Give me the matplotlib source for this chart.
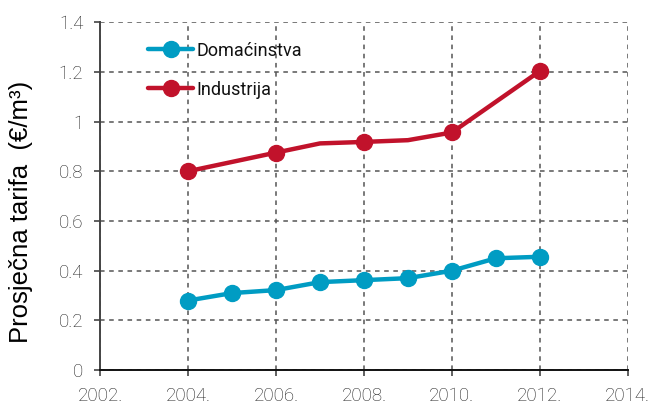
import matplotlib
matplotlib.use("Agg")
import matplotlib.pyplot as plt

years_dom = [2004, 2005, 2006, 2007, 2008, 2009, 2010, 2011, 2012]
dom = [0.28, 0.31, 0.322, 0.354, 0.362, 0.37, 0.40, 0.45, 0.456]
years_ind = [2004, 2006, 2007, 2008, 2009, 2010, 2012]
ind = [0.80, 0.875, 0.912, 0.918, 0.925, 0.956, 1.203]
ind_marked = [0, 1, 3, 5, 6]

xticks = [2002, 2004, 2006, 2008, 2010, 2012, 2014]
xticklabels = ["2002.", "2004.", "2006.", "2008.", "2010.", "2012.", "2014."]
yticks = [0, 0.2, 0.4, 0.6, 0.8, 1.0, 1.2, 1.4]
yticklabels = ["0", "0.2", "0.4", "0.6", "0.8", "1", "1.2", "1.4"]

plt.rcParams['font.family'] = ['Roboto', 'DejaVu Sans']

fig = plt.figure(figsize=(6.54, 4.09), dpi=100)
ax = fig.add_axes([0.153, 0.095, 0.807, 0.851])

c_dom = "#009CC3"
c_ind = "#C1122B"
ax.plot(years_dom, dom, color=c_dom, lw=3.2, marker='o', ms=11.5,
        label="Domaćinstva", solid_capstyle='round', zorder=3)
ax.plot(years_ind, ind, color=c_ind, lw=3.2, marker='o', ms=11.5,
        markevery=ind_marked, label="Industrija", solid_capstyle='round', zorder=3)

ax.set_xlim(2002, 2014)
ax.set_ylim(0, 1.4)
ax.set_xticks(xticks)
ax.set_xticklabels(xticklabels)
ax.set_yticks(yticks)
ax.set_yticklabels(yticklabels)

ax.grid(True, color="#555555", linestyle=(0, (3, 3)), linewidth=1.1, zorder=1)
ax.set_axisbelow(True)

for s in ["top", "right"]:
    ax.spines[s].set_visible(False)
ax.spines["left"].set_color("#444444")
ax.spines["left"].set_linewidth(1.4)
ax.spines["bottom"].set_color("#111111")
ax.spines["bottom"].set_linewidth(1.4)

ax.tick_params(axis='both', direction='out', length=4, width=1.2, color="#444444",
               labelsize=13.5, labelcolor="#222222")
ax.tick_params(axis='y', pad=8)
ax.tick_params(axis='x', pad=8)
for lab in ax.get_xticklabels() + ax.get_yticklabels():
    lab.set_fontweight('light')

ax.set_ylabel("Prosječna tarifa  (€/m³)", fontsize=18.5, color="#000000",
              family=['Liberation Sans', 'DejaVu Sans'])
ax.yaxis.set_label_coords(-0.128, 0.455)

leg = ax.legend(loc='upper left', bbox_to_anchor=(0.06, 0.99), frameon=False,
                fontsize=13, handlelength=2.5, labelspacing=1.15, handletextpad=0.2)
for t in leg.get_texts():
    t.set_color("#111111")

fig.savefig("out.png", dpi=100)
